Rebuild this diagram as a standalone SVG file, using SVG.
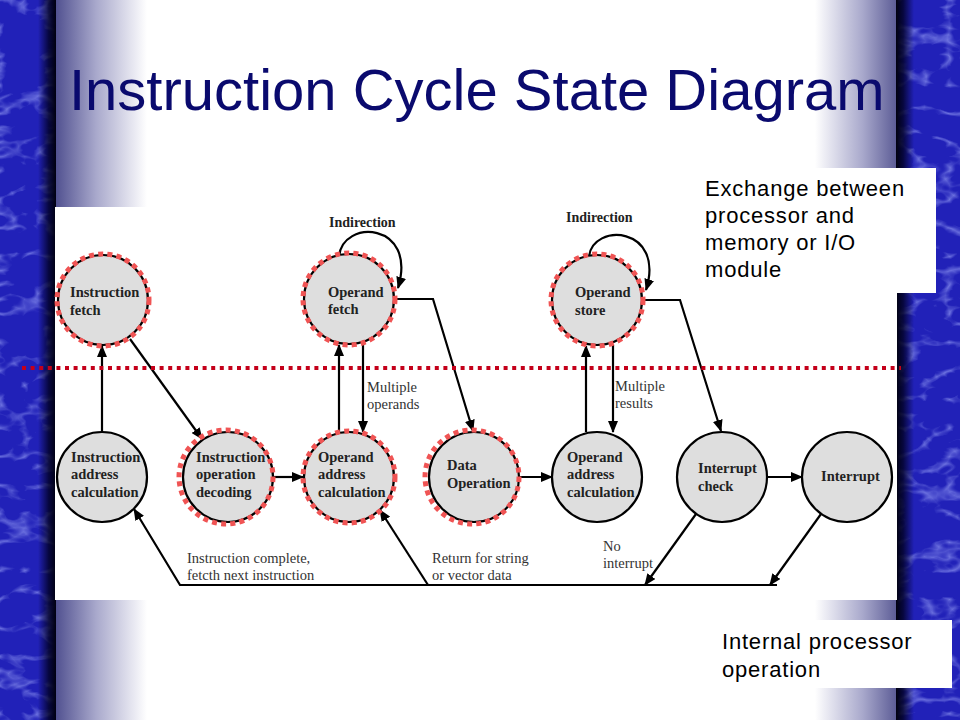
<svg xmlns="http://www.w3.org/2000/svg" width="960" height="720" viewBox="0 0 960 720">
<defs>
  <linearGradient id="gl" x1="0" y1="0" x2="1" y2="0">
    <stop offset="0" stop-color="#4f4f8f"/>
    <stop offset="0.45" stop-color="#a9a9cc"/>
    <stop offset="1" stop-color="#ffffff"/>
  </linearGradient>
  <linearGradient id="gr" x1="0" y1="0" x2="1" y2="0">
    <stop offset="0" stop-color="#ffffff"/>
    <stop offset="0.55" stop-color="#a9a9cc"/>
    <stop offset="1" stop-color="#52528f"/>
  </linearGradient>
  <linearGradient id="edgeL" x1="0" y1="0" x2="1" y2="0">
    <stop offset="0" stop-color="#000020" stop-opacity="0"/>
    <stop offset="0.6" stop-color="#000020" stop-opacity="0.8"/>
    <stop offset="1" stop-color="#000010" stop-opacity="1"/>
  </linearGradient>
  <linearGradient id="edgeR" x1="0" y1="0" x2="1" y2="0">
    <stop offset="0" stop-color="#000010" stop-opacity="1"/>
    <stop offset="0.4" stop-color="#000020" stop-opacity="0.8"/>
    <stop offset="1" stop-color="#000020" stop-opacity="0"/>
  </linearGradient>
  <filter id="tex" x="0" y="0" width="100%" height="100%">
    <feTurbulence type="turbulence" baseFrequency="0.02 0.035" numOctaves="3" seed="11"/>
    <feColorMatrix type="matrix" values="0 0 0 0 0.4  0 0 0 0 0.45  0 0 0 0 1  0 0 0 -2.4 0.55"/>
  </filter>
  <marker id="ah" viewBox="0 0 12 10" refX="11" refY="5" markerWidth="12" markerHeight="10" markerUnits="userSpaceOnUse" orient="auto">
    <path d="M0,0 L12,5 L0,10 Z" fill="#000"/>
  </marker>
  <style>
    .node circle.b { fill: #dedede; stroke: #000; stroke-width: 2.2; }
    .node circle.r { fill: none; stroke: #f05454; stroke-width: 5; stroke-dasharray: 5 4.2; }
    .nt { font-family: "Liberation Serif", "Times New Roman", serif; font-weight: bold; font-size: 14.5px; fill: #222; }
    .lb { font-family: "Liberation Serif", "Times New Roman", serif; font-size: 14.5px; fill: #333; }
    .lbb { font-family: "Liberation Serif", "Times New Roman", serif; font-weight: bold; font-size: 14px; fill: #222; }
    .cn { fill: none; stroke: #000; stroke-width: 2.2; }
    .side { font-family: "Liberation Sans", Arial, sans-serif; font-size: 22px; letter-spacing: 0.8px; fill: #000; }
  </style>
</defs>

<!-- background -->
<rect x="0" y="0" width="960" height="720" fill="#ffffff"/>
<rect x="55" y="0" width="92" height="720" fill="url(#gl)"/>
<rect x="815" y="0" width="86" height="720" fill="url(#gr)"/>
<rect x="0" y="0" width="56" height="720" fill="#2121b8"/>
<rect x="0" y="0" width="56" height="720" filter="url(#tex)"/>
<rect x="38" y="0" width="18" height="720" fill="url(#edgeL)"/>
<rect x="898" y="0" width="62" height="720" fill="#2121b8"/>
<rect x="898" y="0" width="62" height="720" filter="url(#tex)"/>
<rect x="896" y="0" width="18" height="720" fill="url(#edgeR)"/>

<!-- title -->
<text x="69" y="110" font-family="Liberation Sans, Arial, sans-serif" font-size="58" fill="#0a0a6e">Instruction Cycle State Diagram</text>

<!-- diagram area -->
<rect x="55" y="207" width="842" height="393" fill="#ffffff"/>

<!-- side boxes -->
<g id="box-exchange">
  <rect x="695" y="168" width="241" height="125" fill="#ffffff"/>
  <text class="side" x="705" y="196">Exchange between</text>
  <text class="side" x="705" y="223">processor and</text>
  <text class="side" x="705" y="250">memory or I/O</text>
  <text class="side" x="705" y="277">module</text>
</g>
<g id="box-internal">
  <rect x="712" y="620" width="240" height="68" fill="#ffffff"/>
  <text class="side" x="722" y="649">Internal processor</text>
  <text class="side" x="722" y="677">operation</text>
</g>

<!-- connectors -->
<g id="connectors">
  <line class="cn" x1="102" y1="432" x2="102" y2="346" marker-end="url(#ah)"/>
  <line class="cn" x1="130" y1="339" x2="202" y2="439" marker-end="url(#ah)"/>
  <line class="cn" x1="273" y1="477" x2="303" y2="477" marker-end="url(#ah)"/>
  <line class="cn" x1="339" y1="432" x2="339" y2="345" marker-end="url(#ah)"/>
  <line class="cn" x1="363" y1="345" x2="363" y2="432" marker-end="url(#ah)"/>
  <path class="cn" d="M339,257 C342,218 418,222 398,288" marker-end="url(#ah)"/>
  <polyline class="cn" points="395,299 433,299 473,431" marker-end="url(#ah)"/>
  <line class="cn" x1="519" y1="477" x2="552" y2="477" marker-end="url(#ah)"/>
  <line class="cn" x1="586" y1="432" x2="586" y2="346" marker-end="url(#ah)"/>
  <line class="cn" x1="613" y1="345" x2="613" y2="432" marker-end="url(#ah)"/>
  <path class="cn" d="M589,257 C592,222 666,226 646,290" marker-end="url(#ah)"/>
  <polyline class="cn" points="642,300 680,300 721,431" marker-end="url(#ah)"/>
  <line class="cn" x1="767" y1="477" x2="802" y2="477" marker-end="url(#ah)"/>
  <line class="cn" x1="696" y1="514" x2="645" y2="585" marker-end="url(#ah)"/>
  <line class="cn" x1="821" y1="514" x2="770" y2="585" marker-end="url(#ah)"/>
  <polyline class="cn" points="777,585 180,585 134,509" marker-end="url(#ah)"/>
  <line class="cn" x1="428" y1="585" x2="380" y2="510" marker-end="url(#ah)"/>
</g>

<!-- nodes -->
<g id="n-instruction-fetch" class="node">
  <circle class="b" cx="103" cy="300" r="45"/>
  <circle class="r" cx="103" cy="300" r="46"/>
  <text class="nt" x="70" y="297">Instruction</text>
  <text class="nt" x="70" y="315">fetch</text>
</g>
<g id="n-operand-fetch" class="node">
  <circle class="b" cx="349" cy="299" r="45"/>
  <circle class="r" cx="349" cy="299" r="46"/>
  <text class="nt" x="328" y="297">Operand</text>
  <text class="nt" x="328" y="314">fetch</text>
</g>
<g id="n-operand-store" class="node">
  <circle class="b" cx="597" cy="300" r="45"/>
  <circle class="r" cx="597" cy="300" r="46"/>
  <text class="nt" x="575" y="297">Operand</text>
  <text class="nt" x="575" y="315">store</text>
</g>
<g id="n-instr-addr-calc" class="node">
  <circle class="b" cx="102" cy="477" r="45"/>
  <text class="nt" x="71" y="462">Instruction</text>
  <text class="nt" x="71" y="479">address</text>
  <text class="nt" x="71" y="497">calculation</text>
</g>
<g id="n-instr-op-decoding" class="node">
  <circle class="b" cx="228" cy="477" r="45"/>
  <circle class="r" cx="226" cy="477" r="47"/>
  <text class="nt" x="196" y="462">Instruction</text>
  <text class="nt" x="196" y="479">operation</text>
  <text class="nt" x="196" y="497">decoding</text>
</g>
<g id="n-operand-addr-calc-1" class="node">
  <circle class="b" cx="349" cy="477" r="45"/>
  <circle class="r" cx="349" cy="477" r="46"/>
  <text class="nt" x="318" y="462">Operand</text>
  <text class="nt" x="318" y="479">address</text>
  <text class="nt" x="318" y="497">calculation</text>
</g>
<g id="n-data-operation" class="node">
  <circle class="b" cx="474" cy="477" r="45"/>
  <circle class="r" cx="472" cy="477" r="47"/>
  <text class="nt" x="447" y="470">Data</text>
  <text class="nt" x="447" y="488">Operation</text>
</g>
<g id="n-operand-addr-calc-2" class="node">
  <circle class="b" cx="597" cy="477" r="45"/>
  <text class="nt" x="567" y="462">Operand</text>
  <text class="nt" x="567" y="479">address</text>
  <text class="nt" x="567" y="497">calculation</text>
</g>
<g id="n-interrupt-check" class="node">
  <circle class="b" cx="722" cy="477" r="45"/>
  <text class="nt" x="698" y="473">Interrupt</text>
  <text class="nt" x="698" y="491">check</text>
</g>
<g id="n-interrupt" class="node">
  <circle class="b" cx="847" cy="477" r="45"/>
  <text class="nt" x="821" y="481">Interrupt</text>
</g>

<!-- labels -->
<g id="labels">
  <text class="lbb" x="329" y="227">Indirection</text>
  <text class="lbb" x="566" y="222">Indirection</text>
  <text class="lb" x="367" y="392">Multiple</text>
  <text class="lb" x="367" y="409">operands</text>
  <text class="lb" x="615" y="391">Multiple</text>
  <text class="lb" x="615" y="408">results</text>
  <text class="lb" x="187" y="563">Instruction complete,</text>
  <text class="lb" x="187" y="580">fetcth next instruction</text>
  <text class="lb" x="432" y="563">Return for string</text>
  <text class="lb" x="432" y="580">or vector data</text>
  <text class="lb" x="603" y="551">No</text>
  <text class="lb" x="603" y="568">interrupt</text>
</g>

<!-- boundary line -->
<line x1="22" y1="368" x2="901" y2="368" stroke="#c4001a" stroke-width="4" stroke-dasharray="4 4.6"/>
</svg>
